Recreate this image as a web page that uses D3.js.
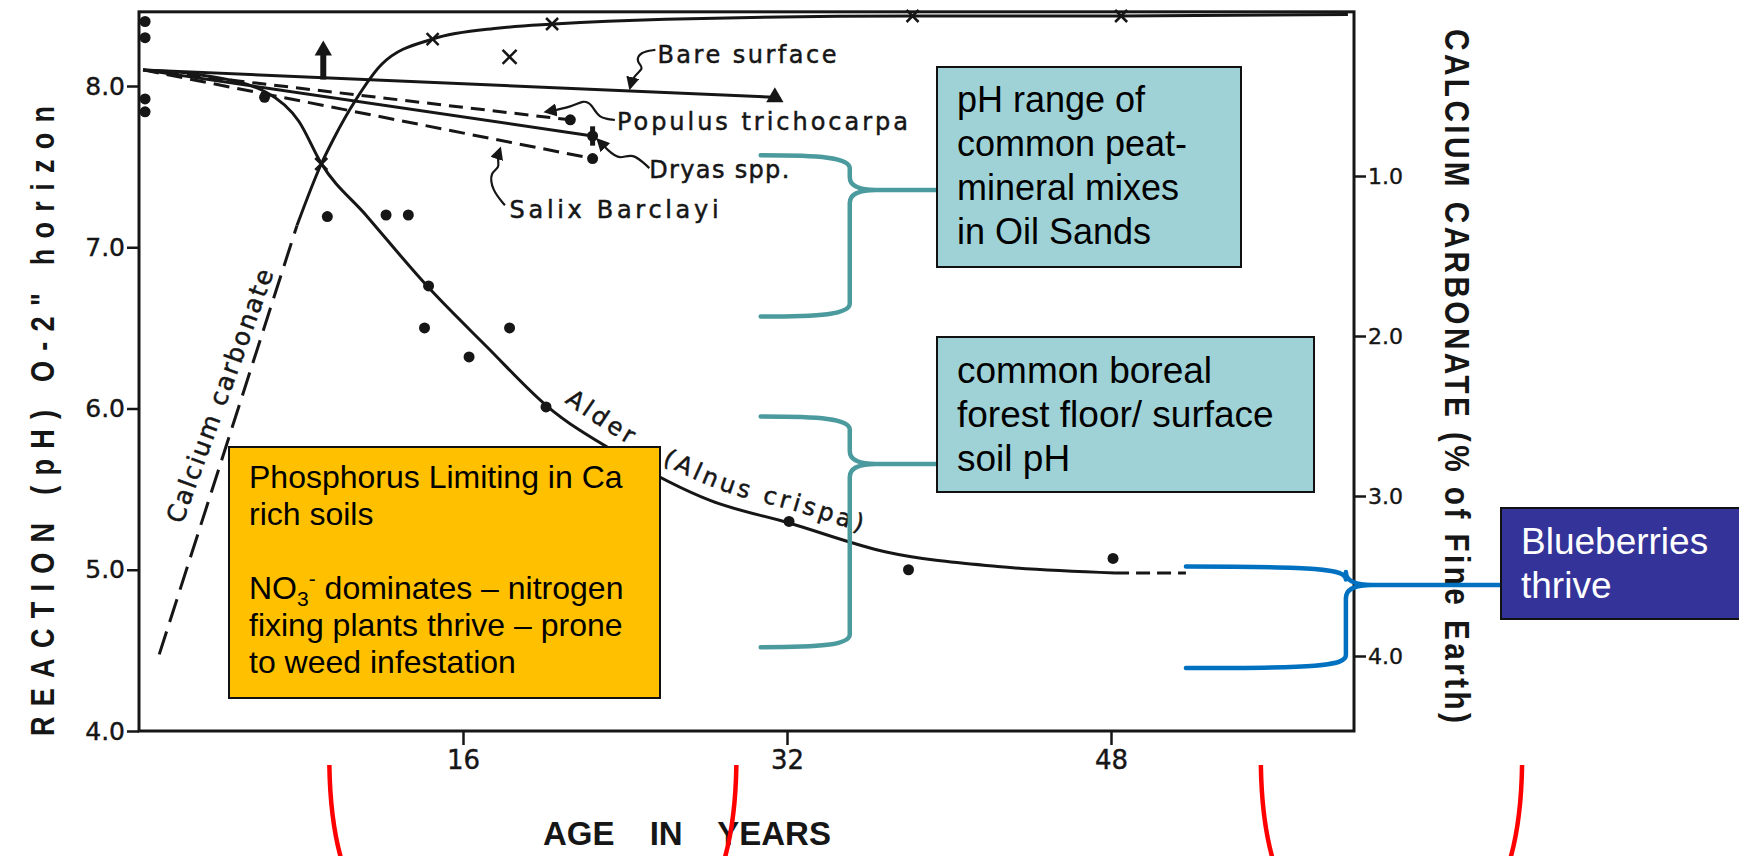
<!DOCTYPE html>
<html>
<head>
<meta charset="utf-8">
<script src="https://cdn.jsdelivr.net/npm/d3@7"></script>
<style>
  html, body { margin: 0; padding: 0; background: #fff; }
  svg { display: block; }
</style>
</head>
<body>
<svg id="chart" width="1739" height="856"></svg>
<script>
// ---- data (age in years, pH / % CaCO3) ----
const phTicks = [4, 5, 6, 7, 8];
const ageTicks = [16, 32, 48];
const caTicks = [1, 2, 3, 4];

const alderCurve = [[0.2, 8.1], [3, 8.07], [6.3, 7.96], [7.9, 7.78], [9, 7.52], [11.2, 7.2], [14.3, 6.75],
  [17.2, 6.38], [20.1, 6.02], [23.8, 5.71], [28.2, 5.43], [32.1, 5.29], [36.9, 5.11], [42.4, 5.02], [48.2, 4.98]];
const alderTail = [[48.2, 4.98], [51.7, 4.98]];
const alderDots = [[6.2, 7.93], [9.3, 7.19], [12.2, 7.2], [13.3, 7.2], [14.3, 6.76], [14.1, 6.5], [16.3, 6.32],
  [18.3, 6.5], [20.1, 6.01], [32.1, 5.3], [38.0, 5.0], [48.1, 5.07]];
const ageZeroDots = [[0.3, 8.4], [0.3, 8.3], [0.3, 7.92], [0.3, 7.84]];

const caDashed = [[1.0, 3.99], [7.8, 1.31]];
const caSolid = [[7.8, 1.31], [9.0, 0.925], [9.6, 0.77], [10.7, 0.525], [12.0, 0.3], [14.5, 0.144], [17.8, 0.075],
  [20.5, 0.05], [26, 0.02], [38.2, 0.0], [48.5, 0.0], [59.7, -0.01]];
const caMarks = [[9.0, 0.925], [14.5, 0.144], [20.4, 0.05], [38.2, 0.0], [48.5, 0.0]];
const caLoneMark = [[18.3, 0.256]];

const bareSurface = [[0.2, 8.1], [31.4, 7.93]];
const bareSurfaceExtra = [[9.1, 8.22]];
const populus = [[0.2, 8.1], [21.3, 7.79]];
const dryas = [[0.2, 8.1], [22.4, 7.69]];
const salix = [[0.2, 8.1], [22.4, 7.55]];

// leader squiggles for the species labels (age, pH)
const bareLeader = [[25.5, 8.224], [24.74, 8.211], [24.54, 8.149], [24.99, 8.112], [24.4, 8.062], [24.25, 7.99]];
const populusLeader = [[23.5, 7.789], [22.67, 7.801], [22.37, 7.888], [21.93, 7.913], [21.38, 7.87], [20.1, 7.84]];
const dryasLeader = [[25.2, 7.491], [24.35, 7.59], [23.76, 7.54], [23.16, 7.6], [22.67, 7.665]];
const salixLeader = [[18.07, 7.261], [17.43, 7.354], [17.33, 7.466], [17.83, 7.491], [17.68, 7.553], [17.83, 7.61]];

// pH ranges marked by the slide's braces, age ranges marked by the red brackets
const phRangePeatMix = [6.57, 7.57];
const phRangeBoreal = [4.52, 5.95];
const phRangeBlueberry = [4.39, 5.02];
const ageRangesRed = [[9.4, 29.5], [55.4, 68.3]];

const peatMixText = ['pH range of', 'common peat-', 'mineral mixes', 'in Oil Sands'];
const borealText = ['common boreal', 'forest floor/ surface', 'soil pH'];
const blueberryText = ['Blueberries', 'thrive'];

// ---- drawing ----
const svg = d3.select('#chart');
const INK = '#161616';
const SCAN_FONT = '"DejaVu Sans", Verdana, sans-serif';
const PPT_FONT = '"Liberation Sans", Arial, sans-serif';

const x = d3.scaleLinear().domain([0, 48]).range([139, 1111]);
const y = d3.scaleLinear().domain([4, 8]).range([731, 86]);
const yCa = d3.scaleLinear().domain([0, 4]).range([16, 656]);

const line = d3.line().x(d => x(d[0])).y(d => y(d[1]));
const smooth = d3.line().x(d => x(d[0])).y(d => y(d[1])).curve(d3.curveMonotoneX);
const smoothCa = d3.line().x(d => x(d[0])).y(d => yCa(d[1])).curve(d3.curveMonotoneX);
const lineCa = d3.line().x(d => x(d[0])).y(d => yCa(d[1]));
const wiggle = d3.line().x(d => x(d[0])).y(d => y(d[1])).curve(d3.curveBasis);

const defs = svg.append('defs');
defs.append('marker')
  .attr('id', 'arrow')
  .attr('viewBox', '0 0 10 10')
  .attr('refX', 8).attr('refY', 5)
  .attr('markerWidth', 6).attr('markerHeight', 6)
  .attr('orient', 'auto')
  .append('path').attr('d', 'M0,0 L10,5 L0,10 z').attr('fill', INK);

// frame
const frameLeft = x(0), frameRight = x(60), frameTop = y(8.46), frameBottom = y(4);
svg.append('rect')
  .attr('x', frameLeft).attr('y', frameTop)
  .attr('width', frameRight - frameLeft).attr('height', frameBottom - frameTop)
  .attr('fill', 'none').attr('stroke', INK).attr('stroke-width', 3);

// axes
const styleTicks = (a, size) => a
  .call(g => g.select('.domain').remove())
  .call(g => g.selectAll('line').attr('stroke', INK).attr('stroke-width', 2.5))
  .call(g => g.selectAll('text').attr('font-family', SCAN_FONT).attr('font-size', size)
    .attr('fill', INK).attr('stroke', INK).attr('stroke-width', 0.4));

svg.append('g').attr('transform', `translate(${frameLeft},0)`)
  .call(d3.axisLeft(y).tickValues(phTicks).tickFormat(d3.format('.1f')).tickSize(12).tickPadding(2))
  .call(a => styleTicks(a, 25));

svg.append('g').attr('transform', `translate(0,${frameBottom})`)
  .call(d3.axisBottom(x).tickValues(ageTicks).tickSize(14).tickPadding(6))
  .call(a => styleTicks(a, 26));

svg.append('g').attr('transform', `translate(${frameRight},0)`)
  .call(d3.axisRight(yCa).tickValues(caTicks).tickFormat(d3.format('.1f')).tickSize(12).tickPadding(2))
  .call(a => styleTicks(a, 22));

// axis titles (scan lettering is tall and narrow, hence the squeeze)
svg.append('text')
  .attr('transform', 'translate(43,421) rotate(-90) scale(0.82,1)')
  .attr('text-anchor', 'middle').attr('dominant-baseline', 'central')
  .attr('font-family', PPT_FONT).attr('font-weight', 'bold').attr('font-size', 33)
  .attr('textLength', 630 / 0.82).attr('lengthAdjust', 'spacing')
  .attr('fill', INK)
  .text('REACTION (pH) O-2" horizon');

svg.append('text')
  .attr('transform', 'translate(1457,376) rotate(90) scale(0.85,1)')
  .attr('text-anchor', 'middle').attr('dominant-baseline', 'central')
  .attr('font-family', PPT_FONT).attr('font-weight', 'bold').attr('font-size', 35)
  .attr('textLength', 694 / 0.85).attr('lengthAdjust', 'spacing')
  .attr('fill', INK)
  .text('CALCIUM CARBONATE (% of Fine Earth)');

svg.append('text')
  .attr('x', 543).attr('y', 845)
  .attr('font-family', PPT_FONT).attr('font-weight', 'bold').attr('font-size', 33)
  .attr('word-spacing', 26).attr('fill', INK)
  .text('AGE IN YEARS');

// species lines
const lines = svg.append('g').attr('fill', 'none').attr('stroke', INK).attr('stroke-width', 3);
lines.append('path').attr('d', line(bareSurface));
lines.append('path').attr('d', line(populus)).attr('stroke-dasharray', '14,8');
lines.append('path').attr('d', line(dryas));
lines.append('path').attr('d', line(salix)).attr('stroke-dasharray', '16,8');
lines.append('path').attr('d', smooth(alderCurve));
lines.append('path').attr('d', line(alderTail)).attr('stroke-dasharray', '14,7');
lines.append('path').attr('d', lineCa(caDashed)).attr('stroke-dasharray', '24,10');
lines.append('path').attr('d', smoothCa(caSolid));

// markers
svg.append('g').selectAll('circle')
  .data(alderDots.concat([populus[1], dryas[1], salix[1]], ageZeroDots))
  .join('circle')
  .attr('cx', d => x(d[0])).attr('cy', d => y(d[1])).attr('r', 5.5)
  .attr('fill', INK);

svg.append('line')
  .attr('x1', x(dryas[1][0])).attr('x2', x(dryas[1][0]))
  .attr('y1', y(dryas[1][1] + 0.06)).attr('y2', y(dryas[1][1] - 0.06))
  .attr('stroke', INK).attr('stroke-width', 5);

svg.append('g').selectAll('path')
  .data([bareSurface[1]].concat(bareSurfaceExtra))
  .join('path')
  .attr('transform', d => `translate(${x(d[0])},${y(d[1])})`)
  .attr('d', d3.symbol(d3.symbolTriangle, 130))
  .attr('fill', INK);
svg.append('line')
  .attr('x1', x(bareSurfaceExtra[0][0])).attr('x2', x(bareSurfaceExtra[0][0]))
  .attr('y1', y(bareSurfaceExtra[0][1])).attr('y2', y(8.04))
  .attr('stroke', INK).attr('stroke-width', 6);

const cross = (g, d, s) => {
  g.append('path')
    .attr('d', `M${x(d[0]) - s},${yCa(d[1]) - s}L${x(d[0]) + s},${yCa(d[1]) + s}M${x(d[0]) - s},${yCa(d[1]) + s}L${x(d[0]) + s},${yCa(d[1]) - s}`)
    .attr('stroke', INK).attr('stroke-width', 2.5);
};
const crossG = svg.append('g');
caMarks.forEach(d => cross(crossG, d, 6));
caLoneMark.forEach(d => cross(crossG, d, 7));

// leaders
const leaders = svg.append('g').attr('fill', 'none').attr('stroke', INK).attr('stroke-width', 2.2);
[bareLeader, populusLeader, dryasLeader, salixLeader].forEach(pts => {
  leaders.append('path').attr('d', wiggle(pts)).attr('marker-end', 'url(#arrow)');
});

// species labels
const scanLabel = (text, age, ph, len, size) => svg.append('text')
  .attr('x', x(age)).attr('y', y(ph))
  .attr('font-family', SCAN_FONT).attr('font-size', size || 24)
  .attr('textLength', len).attr('lengthAdjust', 'spacing')
  .attr('fill', INK).attr('stroke', INK).attr('stroke-width', 0.5)
  .text(text);
scanLabel('Bare surface', 25.6, 8.143, 179);
scanLabel('Populus trichocarpa', 23.6, 7.727, 291);
scanLabel('Dryas spp.', 25.2, 7.43, 140);
scanLabel('Salix Barclayi', 18.3, 7.18, 209);

svg.append('text')
  .attr('transform', `translate(${x(4.0) + 8},${y(6.06)}) rotate(-70)`)
  .attr('text-anchor', 'middle')
  .attr('font-family', SCAN_FONT).attr('font-size', 25)
  .attr('textLength', 268).attr('lengthAdjust', 'spacing')
  .attr('fill', INK).attr('stroke', INK).attr('stroke-width', 0.5)
  .text('Calcium carbonate');

// Alder label follows the curve, split in two words like the original lettering
const alderPath = defs.append('path')
  .attr('id', 'alder-label-path')
  .attr('d', d3.line().x(d => x(d[0]) + 6).y(d => y(d[1]) - 12).curve(d3.curveMonotoneX)(alderCurve.filter(d => d[0] >= 19)));
const offsetAtX = px => {
  const node = alderPath.node();
  const total = node.getTotalLength();
  let len = 0;
  while (len < total && node.getPointAtLength(len).x < px) len += 1;
  return len;
};
[['Alder', 21.0], ['(Alnus crispa)', 25.8]].forEach(([label, age]) => {
  svg.append('text')
    .attr('font-family', SCAN_FONT).attr('font-size', 24).attr('letter-spacing', 3.6)
    .attr('fill', INK).attr('stroke', INK).attr('stroke-width', 0.5)
    .append('textPath').attr('href', '#alder-label-path').attr('startOffset', offsetAtX(x(age)))
    .text(label);
});

// ---- slide overlays ----
function brace(xStart, xBend, yTop, yBot, yCusp, xEnd, color) {
  const r = 13;
  const p = d3.path();
  p.moveTo(xStart, yTop);
  p.bezierCurveTo(xBend - 30, yTop, xBend, yTop + 2, xBend, yTop + r);
  p.lineTo(xBend, yCusp - r);
  p.quadraticCurveTo(xBend, yCusp, xBend + 2 * r, yCusp);
  p.lineTo(xEnd, yCusp);
  p.moveTo(xBend + 2 * r, yCusp);
  p.quadraticCurveTo(xBend, yCusp, xBend, yCusp + r);
  p.lineTo(xBend, yBot - r);
  p.bezierCurveTo(xBend, yBot - 2, xBend - 30, yBot, xStart, yBot);
  svg.append('path').attr('d', p.toString())
    .attr('fill', 'none').attr('stroke', color).attr('stroke-width', 4.5)
    .attr('stroke-linecap', 'round').attr('stroke-linejoin', 'round');
}

function box(bx, by, bw, bh, fill, textLines, size, color, lineGap) {
  svg.append('rect').attr('x', bx).attr('y', by).attr('width', bw).attr('height', bh)
    .attr('fill', fill).attr('stroke', '#111').attr('stroke-width', 2);
  const t = svg.append('text').attr('font-family', PPT_FONT).attr('font-size', size).attr('fill', color);
  textLines.forEach((s, i) => {
    t.append('tspan').attr('x', bx + 20).attr('y', by + size * 1.25 + i * lineGap).text(s);
  });
}

brace(x(30.7), x(35.1), y(phRangePeatMix[1]), y(phRangePeatMix[0]), 190, 937, '#4a9a9e');
brace(x(30.7), x(35.1), y(phRangeBoreal[1]), y(phRangeBoreal[0]), 464, 937, '#4a9a9e');
brace(x(51.7), x(59.6), y(phRangeBlueberry[1]), y(phRangeBlueberry[0]), 585, 1501, '#0070c0');

box(937, 67, 304, 200, '#9fd2d6', peatMixText, 36, '#000', 44);
box(937, 337, 377, 155, '#9fd2d6', borealText, 37, '#000', 44);
box(1501, 508, 260, 111, '#333399', blueberryText, 37, '#fff', 44);

// orange note with NO3- sub/superscript
svg.append('rect').attr('x', 229).attr('y', 447).attr('width', 431).attr('height', 251)
  .attr('fill', '#ffc000').attr('stroke', '#111').attr('stroke-width', 2);
const note = svg.append('text').attr('font-family', PPT_FONT).attr('font-size', 32).attr('fill', '#000');
note.append('tspan').attr('x', 249).attr('y', 488).text('Phosphorus Limiting in Ca');
note.append('tspan').attr('x', 249).attr('y', 525).text('rich soils');
const no3 = note.append('tspan').attr('x', 249).attr('y', 599);
no3.append('tspan').text('NO');
no3.append('tspan').attr('font-size', 21).attr('dy', 7).text('3');
no3.append('tspan').attr('font-size', 21).attr('dy', -20).text('-');
no3.append('tspan').attr('dy', 13).text(' dominates – nitrogen');
note.append('tspan').attr('x', 249).attr('y', 636).text('fixing plants thrive – prone');
note.append('tspan').attr('x', 249).attr('y', 673).text('to weed infestation');

// red age brackets below the axis
const red = svg.append('g').attr('fill', 'none').attr('stroke', '#ff0000').attr('stroke-width', 4.5);
ageRangesRed.forEach(([a0, a1]) => {
  const xl = x(a0), xr = x(a1);
  red.append('path').attr('d', `M${xl},765 Q${xl + 1},830 ${xl + 16},872`);
  red.append('path').attr('d', `M${xr},765 Q${xr - 1},830 ${xr - 16},872`);
});
</script>
</body>
</html>
